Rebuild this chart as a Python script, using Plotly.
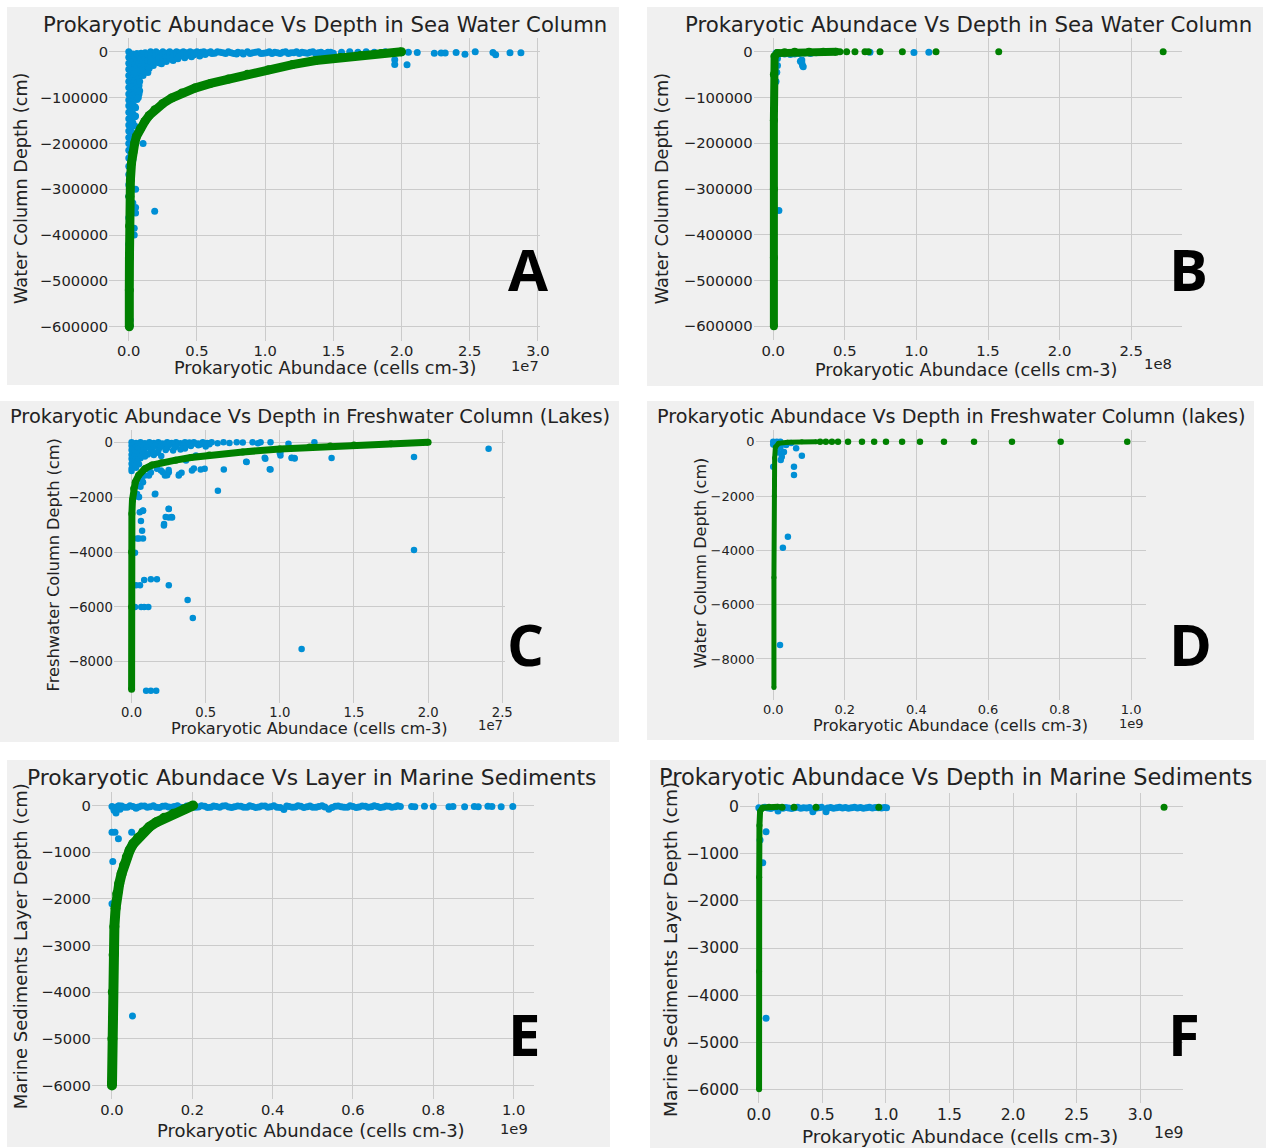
import plotly.graph_objects as go

W, H = 1266, 1148
FONT = "DejaVu Sans"
BLUE = "#008fd5"
GREEN = "#008000"
PANEL_BG = "#f0f0f0"
GRID = "#cbcbcb"
INK = "#222222"
MINUS = "\u2212"

# ---------------- data ----------------
# Abundance values are stored in the unit shown by each axis offset label
# (1e7 / 1e8 / 1e9 cells cm-3); depths are in cm.

# A: sea water column, observed (blue) and predicted (green)
A_SCALE = 1e7
A_X_TICKS = [0.0, 0.5, 1.0, 1.5, 2.0, 2.5, 3.0]
A_Y_TICKS = [0, -100000, -200000, -300000, -400000, -500000, -600000]
A_OBS = [
    (0.00, 0), (0.00, -12000), (0.00, -25000), (0.00, -38000), (0.00, -52000), (0.00, -65000),
    (0.00, -78000), (0.00, -92000), (0.00, -105000), (0.00, -118000), (0.00, -132000),
    (0.00, -146000), (0.00, -160000), (0.00, -173000), (0.00, -187000), (0.00, -200000),
    (0.00, -215000), (0.00, -232000), (0.00, -250000), (0.00, -268000), (0.00, -290000),
    (0.00, -315000), (0.01, -340000), (0.00, -362000), (0.01, -390000), (0.00, -420000),
    (0.00, -455000), (0.00, -490000), (0.00, -525000), (0.00, -560000), (0.01, -585000),
    (0.01, -598000),
    (0.015, -6000), (0.015, -18000), (0.015, -30000), (0.015, -44000), (0.015, -57000),
    (0.015, -70000), (0.015, -84000), (0.015, -97000), (0.015, -110000), (0.015, -124000),
    (0.015, -138000), (0.015, -152000), (0.015, -166000), (0.015, -180000), (0.015, -194000),
    (0.015, -208000), (0.015, -222000),
    (0.03, -5000), (0.03, -22000), (0.03, -40000), (0.03, -58000), (0.03, -76000), (0.03, -95000),
    (0.03, -115000), (0.03, -135000), (0.03, -155000), (0.03, -178000), (0.04, -195000),
    (0.03, -212000), (0.03, -235000),
    (0.045, -10000), (0.045, -27000), (0.045, -45000), (0.045, -63000), (0.045, -82000),
    (0.045, -100000), (0.045, -120000), (0.045, -142000), (0.045, -162000), (0.045, -182000),
    (0.06, -4000), (0.06, -18000), (0.06, -33000), (0.06, -50000), (0.06, -68000), (0.06, -86000),
    (0.06, -104000), (0.05, -122000), (0.05, -140000),
    (0.075, -8000), (0.075, -24000), (0.075, -40000), (0.075, -56000), (0.075, -74000),
    (0.075, -92000),
    (0.09, -3000), (0.09, -15000), (0.09, -30000), (0.09, -47000), (0.08, -65000), (0.08, -85000),
    (0.07, -100000),
    (0.105, -8000), (0.105, -22000), (0.105, -36000), (0.105, -52000),
    (0.12, -2000), (0.12, -14000), (0.12, -28000), (0.11, -42000),
    (0.14, -6000), (0.14, -19000), (0.14, -32000), (0.14, -45000),
    (0.16, 0), (0.16, -10000), (0.16, -24000), (0.15, -36000),
    (0.18, -5000), (0.18, -16000), (0.18, -30000),
    (0.20, 0), (0.20, -9000), (0.20, -20000),
    (0.22, -4000), (0.22, -14000), (0.22, -24000),
    (0.25, 0), (0.25, -7000), (0.25, -18000), (0.24, -26000),
    (0.275, -3000), (0.275, -12000), (0.275, -21000),
    (0.30, 0), (0.30, -6000), (0.30, -16000),
    (0.325, -3000), (0.325, -10000), (0.325, -19000),
    (0.35, 0), (0.35, -5000), (0.36, -15000),
    (0.375, -2000), (0.375, -9000),
    (0.40, 0), (0.40, -4000), (0.41, -13000),
    (0.425, -2000), (0.425, -8000),
    (0.45, 0), (0.45, -3000), (0.46, -11000),
    (0.475, -2000), (0.475, -7000),
    (0.50, 0), (0.50, -3000), (0.52, -9000),
    (0.53, -1000), (0.53, -5000),
    (0.55, 0), (0.56, -6000), (0.58, -2000), (0.60, 0), (0.61, -4000),
    (0.65, 0), (0.69, -2000), (0.73, 0), (0.77, -4000), (0.80, -1000), (0.84, -5000), (0.87, 0),
    (0.91, -2000), (0.95, 0), (0.99, -3000), (1.03, 0), (1.07, -1000), (1.11, -4000), (1.15, 0),
    (1.19, -2000), (1.23, 0), (1.27, -1000), (1.31, -3000), (1.35, 0), (1.39, -2000), (1.43, -4000),
    (1.46, -1000), (1.50, -3000), (1.56, -1000), (1.62, 0), (1.68, -1000), (1.74, 0), (1.80, -1000),
    (1.88, 0), (1.95, -1000), (2.00, -2000), (2.05, -1000),
    (0.63, -3000), (0.67, -1000), (0.71, -4000), (0.75, -2000), (0.79, -5000), (0.83, -2000),
    (0.89, -4000), (0.93, -1000), (0.97, -4000), (1.01, -2000), (1.05, -4000), (1.09, -2000),
    (1.13, -1000), (1.17, -4000), (1.21, -2000), (1.25, -4000), (1.29, -2000), (1.33, -1000),
    (1.37, -4000), (1.41, -1000), (1.45, -3000), (1.48, -1000),
    (1.95, -17500), (1.95, -28000), (2.04, -28400),
    (2.115, -1500), (2.24, -3000), (2.29, -2500), (2.32, -2500), (2.40, -1500), (2.465, -5500),
    (2.54, 0), (2.67, -1500), (2.69, -6500), (2.795, -2000), (2.875, -2000),
    (0.105, -200000), (0.19, -348000), (0.05, -300000), (0.03, -330000), (0.05, -340000),
    (0.05, -352000), (0.04, -385000), (0.04, -400000),
]
A_PRED = [
    (2.00, 0), (1.85, -4000), (1.70, -8000), (1.55, -12500), (1.37, -19000), (1.20, -28000),
    (1.024, -39300), (0.87, -49000), (0.73, -59600), (0.60, -69000), (0.485, -79300),
    (0.39, -90000), (0.314, -101000), (0.25, -113000), (0.191, -126600), (0.15, -139000),
    (0.118, -152000), (0.085, -168000), (0.056, -185000), (0.044, -199000), (0.03, -220000),
    (0.02, -243000), (0.012, -280000), (0.008, -316000), (0.006, -380000), (0.005, -450000),
    (0.004, -520000), (0.004, -600000),
]

# B: sea water column, second model
B_SCALE = 1e8
B_X_TICKS = [0.0, 0.5, 1.0, 1.5, 2.0, 2.5]
B_Y_TICKS = [0, -100000, -200000, -300000, -400000, -500000, -600000]
B_OBS = [
    (0.02, -3000), (0.05, -4000), (0.08, -5000), (0.12, -6000), (0.15, -5000), (0.18, -4000),
    (0.22, -3000), (0.26, -4000), (0.30, -2000), (0.35, -1000),
    (0.19, -21000), (0.20, -18000), (0.20, -24000), (0.205, -30000), (0.21, -33000),
    (0.03, -15000), (0.03, -30000), (0.025, -45000), (0.02, -65000),
    (0.676, -1000), (0.983, -1500), (1.087, -1000),
    (0.04, -347000),
]
B_PRED_LINE = [
    (0.44, 0), (0.35, 0), (0.25, 0), (0.15, 0), (0.08, -1000), (0.03, -3000), (0.01, -10000),
    (0.005, -50000), (0.005, -150000), (0.005, -300000), (0.005, -450000), (0.005, -600000),
]
B_PRED_HIGH_X = [0.466, 0.513, 0.571, 0.641, 0.664, 0.746, 0.902, 1.137, 1.575, 2.723]

# C: freshwater column (lakes)
C_SCALE = 1e7
C_X_TICKS = [0.0, 0.5, 1.0, 1.5, 2.0, 2.5]
C_Y_TICKS = [0, -2000, -4000, -6000, -8000]
C_OBS = [
    (0.00, 0), (0.03, -20), (0.06, 0), (0.09, -30), (0.12, 0), (0.15, -20), (0.18, 0), (0.21, -40),
    (0.24, 0), (0.27, -20), (0.30, 0), (0.33, -30), (0.36, 0), (0.39, -10), (0.42, 0), (0.45, -40),
    (0.48, 0), (0.51, -20), (0.54, 0), (0.58, -30), (0.62, 0), (0.66, -20), (0.709, 0), (0.75, -10),
    (0.816, 0), (0.852, -30), (0.870, 0), (0.937, 0), (1.058, -50), (1.233, 0),
    (0.015, -60), (0.045, -70), (0.075, -50), (0.105, -80), (0.135, -60), (0.165, -70),
    (0.195, -50), (0.225, -80), (0.255, -60), (0.285, -70), (0.315, -50), (0.345, -80),
    (0.375, -60), (0.405, -70), (0.435, -50), (0.465, -80), (0.495, -60), (0.525, -70),
    (0.00, -120), (0.04, -140), (0.08, -110), (0.12, -150), (0.16, -120), (0.20, -140),
    (0.25, -110), (0.30, -150), (0.35, -120), (0.40, -130), (0.45, -110), (0.50, -150),
    (0.02, -200), (0.06, -210), (0.10, -190), (0.14, -220), (0.19, -200), (0.24, -210),
    (0.29, -190), (0.36, -220),
    (0.00, -280), (0.04, -260), (0.08, -300), (0.13, -270), (0.18, -310), (0.23, -280),
    (0.28, -300), (0.33, -260),
    (0.02, -360), (0.05, -350), (0.09, -380), (0.13, -360), (0.17, -380),
    (0.00, -450), (0.03, -420), (0.07, -470), (0.11, -440), (0.15, -460), (0.20, -500),
    (0.02, -520), (0.05, -540), (0.09, -520),
    (0.00, -600), (0.03, -620), (0.06, -580), (0.01, -690), (0.04, -700),
    (0.00, -780), (0.02, -760), (0.05, -800), (0.01, -860),
    (0.00, -950), (0.03, -930), (0.00, -1040),
    (0.902, -600), (0.776, -720), (0.622, -990), (0.582, -1760), (0.937, -990), (1.004, -355),
    (1.004, -476), (1.080, -573), (1.098, -573), (1.349, -573), (1.905, -537), (2.408, -232),
    (1.905, -3920), (1.147, -7530), (0.413, -6400), (0.378, -5750), (0.251, -2430), (0.251, -2735),
    (0.219, -2980), (0.273, -2735), (0.171, -4990), (0.130, -4990), (0.085, -5020), (0.251, -5210),
    (0.085, -6000), (0.065, -6000), (0.113, -6000), (0.023, -6000), (0.030, -5210), (0.057, -5210),
    (0.166, -9050), (0.130, -9050), (0.098, -9050), (0.023, -4020), (0.050, -3500), (0.077, -3500),
    (0.037, -3500), (0.071, -3220), (0.063, -2870), (0.055, -2550), (0.077, -2490), (0.157, -1890),
    (0.050, -1990), (0.037, -1880), (0.050, -1575), (0.077, -1450), (0.090, -1210), (0.117, -1210),
    (0.171, -965), (0.198, -1025), (0.211, -1090), (0.225, -1210), (0.251, -1090), (0.318, -1210),
    (0.337, -1110), (0.407, -1025), (0.466, -990), (0.493, -965), (0.367, -660), (0.434, -476),
    (0.773, -707), (0.898, -560), (0.932, -978), (1.08, -560), (1.10, -586), (1.00, -400),
    (0.42, -950), (0.32, -1170), (0.25, -1010), (0.24, -1200), (0.12, -1000), (0.13, -1100),
    (0.16, -1870), (0.07, -1380), (0.06, -1620), (0.048, -1990), (0.077, -2480), (0.25, -2420),
    (0.27, -2720), (0.23, -2720), (0.218, -3030),
]
C_PRED = [
    (2.00, 0), (1.75, -50), (1.50, -100), (1.34, -130), (1.20, -170), (1.00, -240), (0.75, -350),
    (0.524, -465), (0.40, -550), (0.297, -650), (0.20, -740), (0.138, -830), (0.09, -960),
    (0.048, -1200), (0.025, -1450), (0.014, -1680), (0.006, -2100), (0.002, -2600), (0.00, -4000),
    (0.00, -6000), (0.00, -9000),
]

# D: freshwater column (lakes), second model
D_SCALE = 1e9
D_X_TICKS = [0.0, 0.2, 0.4, 0.6, 0.8, 1.0]
D_Y_TICKS = [0, -2000, -4000, -6000, -8000]
D_OBS = [
    (0.00, 0), (0.01, 0), (0.02, 0), (0.036, -120), (0.00, -100), (0.01, -150), (0.02, -200),
    (0.03, -380), (0.014, -400), (0.024, -550), (0.021, -675), (0.064, -245), (0.05, -50),
    (0.08, -514), (0.058, -920), (0.058, -1225), (0.00, -920), (0.041, -3500), (0.027, -3900),
    (0.019, -7485),
]
D_PRED_LINE = [
    (0.12, 0), (0.08, 0), (0.04, -20), (0.015, -60), (0.006, -200), (0.004, -600),
    (0.003, -2000), (0.002, -5000), (0.002, -9050),
]
D_PRED_HIGH_X = [0.131, 0.147, 0.164, 0.181, 0.209, 0.248, 0.282, 0.315, 0.36, 0.41, 0.477,
                 0.561, 0.667, 0.803, 0.989]

# E: marine sediments layer
E_SCALE = 1e9
E_X_TICKS = [0.0, 0.2, 0.4, 0.6, 0.8, 1.0]
E_Y_TICKS = [0, -1000, -2000, -3000, -4000, -5000, -6000]
E_OBS = [
    (0.000, -20), (0.011, -30), (0.024, -10), (0.038, -40), (0.052, -20), (0.066, -30),
    (0.081, -10), (0.095, -25), (0.110, -35), (0.126, -15), (0.141, -30), (0.155, -20),
    (0.170, -40), (0.186, -10), (0.201, -25), (0.215, -30), (0.231, -15), (0.246, -35),
    (0.260, -20), (0.276, -10), (0.291, -30), (0.305, -25), (0.321, -15), (0.336, -35),
    (0.350, -20), (0.366, -30), (0.381, -10), (0.395, -25), (0.411, -35), (0.428, -86),
    (0.441, -20), (0.456, -30), (0.470, -15), (0.486, -25), (0.500, -35), (0.515, -20),
    (0.530, -30), (0.540, -80), (0.556, -15), (0.571, -25), (0.586, -35), (0.600, -20),
    (0.615, -30), (0.631, -15), (0.646, -25), (0.661, -20), (0.676, -30), (0.690, -15),
    (0.705, -25), (0.718, -20),
    (0.006, -45), (0.017, -5), (0.031, -35), (0.045, -5), (0.059, -45), (0.073, -10),
    (0.088, -40), (0.103, -5), (0.118, -45), (0.133, -10), (0.148, -40), (0.163, -5),
    (0.178, -45), (0.193, -10), (0.208, -40), (0.223, -5), (0.238, -45), (0.253, -10),
    (0.268, -40), (0.283, -5), (0.298, -45), (0.313, -10), (0.328, -40), (0.343, -5),
    (0.358, -45), (0.373, -10), (0.388, -40), (0.403, -5), (0.419, -45), (0.435, -10),
    (0.449, -40), (0.463, -5), (0.478, -45), (0.493, -10), (0.508, -40), (0.523, -5),
    (0.548, -45), (0.563, -10), (0.578, -40), (0.593, -5), (0.608, -45), (0.623, -10),
    (0.638, -40), (0.653, -5), (0.668, -45), (0.683, -10), (0.697, -40), (0.711, -5),
    (0.746, -20), (0.754, -25), (0.778, -15), (0.800, -20), (0.839, -25), (0.849, -20),
    (0.878, -25), (0.902, -20), (0.912, -25), (0.936, -15), (0.946, -20), (0.969, -25),
    (0.998, -20),
    (0.010, -160), (0.005, -100), (0.020, -80), (0.060, -60),
    (0.000, -571), (0.0075, -571), (0.016, -714), (0.049, -571), (0.002, -1200),
    (0.0065, -3390), (0.000, -2105), (0.051, -4511), (0.000, -5497),
]
E_PRED = [
    (0.202, 0), (0.18, -80), (0.153, -178), (0.13, -265), (0.111, -357), (0.093, -460),
    (0.078, -571), (0.065, -690), (0.053, -820), (0.044, -960), (0.037, -1106), (0.030, -1280),
    (0.024, -1463), (0.018, -1680), (0.013, -1892), (0.009, -2200), (0.006, -2600),
    (0.004, -3200), (0.002, -4000), (0.001, -5000), (0.000, -6000),
]

# F: marine sediments, second model
F_SCALE = 1e9
F_X_TICKS = [0.0, 0.5, 1.0, 1.5, 2.0, 2.5, 3.0]
F_Y_TICKS = [0, -1000, -2000, -3000, -4000, -5000, -6000]
F_OBS = [
    (0.000, -20), (0.024, -30), (0.048, -10), (0.071, -25), (0.095, -35), (0.118, -15),
    (0.151, -90), (0.165, -20), (0.190, -30), (0.212, -15), (0.236, -25), (0.259, -35),
    (0.282, -20), (0.306, -10), (0.330, -30), (0.352, -20), (0.376, -25), (0.400, -15),
    (0.425, -106), (0.447, -30), (0.471, -20), (0.494, -10), (0.529, -106), (0.541, -25),
    (0.565, -15), (0.588, -30), (0.612, -20), (0.635, -10), (0.659, -25), (0.682, -15),
    (0.706, -30), (0.729, -20), (0.753, -10), (0.776, -25), (0.800, -15), (0.823, -30),
    (0.847, -20), (0.870, -10), (0.894, -25), (0.917, -15), (0.941, -20), (0.965, -25),
    (0.988, -15), (1.005, -20),
    (0.057, -531), (0.031, -1189), (0.057, -4493), (0.010, -707),
]
F_PRED_LINE = [
    (0.15, 0), (0.08, 0), (0.03, -20), (0.01, -100), (0.005, -400), (0.003, -1500),
    (0.002, -3500), (0.002, -6000),
]
F_PRED_HIGH_X = [0.183, 0.277, 0.450, 0.944, 3.188]


# ---------------- layout helpers ----------------
def fx(p):
    return p / W


def fy(p):
    return 1 - p / H


def ytext(v):
    return "0" if v == 0 else MINUS + str(abs(v))


PANELS = [
    dict(n=1, letter="A", scale=A_SCALE, off="1e7", xt=A_X_TICKS, yt=A_Y_TICKS,
         xdom=(109.2, 539.8), ydom=(38.0, 340.5), xr=(-0.1435, 3.0135), yr=(-630000, 30000),
         bg=(7, 7, 619, 385), tick=14.7, lab=17.7, ttl=21.2,
         title="Prokaryotic Abundace Vs Depth in Sea Water Column",
         ylab="Water Column Depth (cm)",
         t_pos=(325, 25), xl_pos=(324.5, 368.3), off_pos=(524.5, 365.7),
         yl_pos=(21.7, 188.3), let_pos=(528.9, 268.3)),
    dict(n=2, letter="B", scale=B_SCALE, off="1e8", xt=B_X_TICKS, yt=B_Y_TICKS,
         xdom=(753.7, 1182.2), ydom=(38.0, 340.0), xr=(-0.136, 2.856), yr=(-630000, 30000),
         bg=(647, 7, 1263, 386), tick=14.8, lab=17.7, ttl=21.3,
         title="Prokaryotic Abundace Vs Depth in Sea Water Column",
         ylab="Water Column Depth (cm)",
         t_pos=(968, 25), xl_pos=(966.4, 370), off_pos=(1158, 363.3),
         yl_pos=(662, 188.3), let_pos=(1188, 268.3)),
    dict(n=3, letter="C", scale=C_SCALE, off="1e7", xt=C_X_TICKS, yt=C_Y_TICKS,
         xdom=(113.8, 505.2), ydom=(430.0, 703.0), xr=(-0.12, 2.52), yr=(-9500, 450),
         bg=(0, 401, 619, 742), tick=13.2, lab=16.2, ttl=19.4,
         title="Prokaryotic Abundace Vs Depth in Freshwater Column (Lakes)",
         ylab="Freshwater Column Depth (cm)",
         t_pos=(309.5, 416.7), xl_pos=(309, 728.3), off_pos=(490, 725),
         yl_pos=(53.4, 565), let_pos=(525.7, 643.3)),
    dict(n=4, letter="D", scale=D_SCALE, off="1e9", xt=D_X_TICKS, yt=D_Y_TICKS,
         xdom=(755.5, 1145.5), ydom=(429.5, 699.7), xr=(-0.0495, 1.04), yr=(-9500, 450),
         bg=(647, 401, 1254, 740), tick=13.0, lab=16.1, ttl=19.2,
         title="Prokaryotic Abundace Vs Depth in Freshwater Column (lakes)",
         ylab="Water Column Depth (cm)",
         t_pos=(951.6, 416.7), xl_pos=(950.8, 725.7), off_pos=(1131.2, 723.3),
         yl_pos=(700, 563.3), let_pos=(1190, 643.3)),
    dict(n=5, letter="E", scale=E_SCALE, off="1e9", xt=E_X_TICKS, yt=E_Y_TICKS,
         xdom=(91.9, 533.7), ydom=(791.5, 1099.4), xr=(-0.05, 1.05), yr=(-6300, 300),
         bg=(7, 760, 610, 1147), tick=14.7, lab=18.0, ttl=21.8,
         title="Prokaryotic Abundace Vs Layer in Marine Sediments",
         ylab="Marine Sediments Layer Depth (cm)",
         t_pos=(311.9, 777.3), xl_pos=(311, 1130), off_pos=(513.8, 1128.3),
         yl_pos=(20.6, 946.7), let_pos=(523.7, 1033.3)),
    dict(n=6, letter="F", scale=F_SCALE, off="1e9", xt=F_X_TICKS, yt=F_Y_TICKS,
         xdom=(740.0, 1183.0), ydom=(792.6, 1103.4), xr=(-0.148, 3.337), yr=(-6300, 300),
         bg=(650, 760, 1266, 1148), tick=15.6, lab=18.5, ttl=22.5,
         title="Prokaryotic Abundace Vs Depth in Marine Sediments",
         ylab="Marine Sediments Layer Depth (cm)",
         t_pos=(956, 777.3), xl_pos=(960, 1136), off_pos=(1168, 1133.3),
         yl_pos=(670, 950), let_pos=(1184, 1033.3)),
]

fig = go.Figure()


def axes_of(n):
    return ("x" if n == 1 else f"x{n}"), ("y" if n == 1 else f"y{n}")


def add_points(n, pts, scale, color, size):
    xa, ya = axes_of(n)
    fig.add_trace(go.Scatter(
        x=[p[0] * scale for p in pts], y=[p[1] for p in pts],
        mode="markers", xaxis=xa, yaxis=ya, showlegend=False, hoverinfo="skip",
        marker=dict(color=color, size=size, line=dict(width=0)),
    ))


def add_curve(n, pts, scale, color, width):
    xa, ya = axes_of(n)
    fig.add_trace(go.Scatter(
        x=[p[0] * scale for p in pts], y=[p[1] for p in pts],
        mode="lines+markers", xaxis=xa, yaxis=ya, showlegend=False, hoverinfo="skip",
        line=dict(color=color, width=width),
        marker=dict(color=color, size=width, line=dict(width=0)),
    ))


# Panel A
add_points(1, A_OBS, A_SCALE, BLUE, 7)
add_curve(1, A_PRED, A_SCALE, GREEN, 9)
# Panel B
add_points(2, B_OBS, B_SCALE, BLUE, 7)
add_curve(2, B_PRED_LINE, B_SCALE, GREEN, 8)
add_points(2, [(v, 0) for v in B_PRED_HIGH_X], B_SCALE, GREEN, 7)
# Panel C
add_points(3, C_OBS, C_SCALE, BLUE, 6.5)
add_curve(3, C_PRED, C_SCALE, GREEN, 7)
# Panel D
add_points(4, D_OBS, D_SCALE, BLUE, 6.5)
add_curve(4, D_PRED_LINE, D_SCALE, GREEN, 5)
add_points(4, [(v, 0) for v in D_PRED_HIGH_X], D_SCALE, GREEN, 6.5)
# Panel E
add_points(5, E_OBS, E_SCALE, BLUE, 7)
add_curve(5, E_PRED, E_SCALE, GREEN, 10)
# Panel F
add_points(6, F_OBS, F_SCALE, BLUE, 7)
add_curve(6, F_PRED_LINE, F_SCALE, GREEN, 6)
add_points(6, [(v, -10) for v in F_PRED_HIGH_X], F_SCALE, GREEN, 7)

layout = dict(
    width=W, height=H, margin=dict(l=0, r=0, t=0, b=0, pad=0),
    paper_bgcolor="white", plot_bgcolor="rgba(0,0,0,0)",
    showlegend=False, font=dict(family=FONT, color=INK),
    shapes=[], annotations=[],
)

for P in PANELS:
    n = P["n"]
    xkey = "xaxis" if n == 1 else f"xaxis{n}"
    ykey = "yaxis" if n == 1 else f"yaxis{n}"
    xa, ya = axes_of(n)
    s = P["scale"]
    layout[xkey] = dict(
        domain=[fx(P["xdom"][0]), fx(P["xdom"][1])], anchor=ya,
        range=[P["xr"][0] * s, P["xr"][1] * s],
        tickmode="array", tickvals=[v * s for v in P["xt"]],
        ticktext=[f"{v:.1f}" for v in P["xt"]],
        showgrid=True, gridcolor=GRID, gridwidth=1, zeroline=False, showline=False,
        ticks="", tickfont=dict(family=FONT, size=P["tick"], color=INK), automargin=False,
    )
    layout[ykey] = dict(
        domain=[fy(P["ydom"][1]), fy(P["ydom"][0])], anchor=xa,
        range=list(P["yr"]),
        tickmode="array", tickvals=P["yt"], ticktext=[ytext(v) for v in P["yt"]],
        showgrid=True, gridcolor=GRID, gridwidth=1, zeroline=False, showline=False,
        ticks="", tickfont=dict(family=FONT, size=P["tick"], color=INK), automargin=False,
    )
    x0, y0, x1, y1 = P["bg"]
    layout["shapes"].append(dict(
        type="rect", xref="paper", yref="paper", layer="below",
        x0=fx(x0), x1=fx(x1), y0=fy(y1), y1=fy(y0),
        fillcolor=PANEL_BG, line=dict(width=0),
    ))

    def note(text, pos, size, angle=0, family=FONT, color=INK):
        layout["annotations"].append(dict(
            text=text, x=fx(pos[0]), y=fy(pos[1]), xref="paper", yref="paper",
            xanchor="center", yanchor="middle", showarrow=False, textangle=angle,
            font=dict(family=family, size=size, color=color),
        ))

    note(P["title"], P["t_pos"], P["ttl"])
    note("Prokaryotic Abundace (cells cm-3)", P["xl_pos"], P["lab"])
    note(P["off"], P["off_pos"], P["tick"])
    note(P["ylab"], P["yl_pos"], P["lab"], angle=-90)
    note(f"<b>{P['letter']}</b>", P["let_pos"], 58, family="Open Sans", color="#000000")

fig.update_layout(**layout)
fig.write_html("out.html")
